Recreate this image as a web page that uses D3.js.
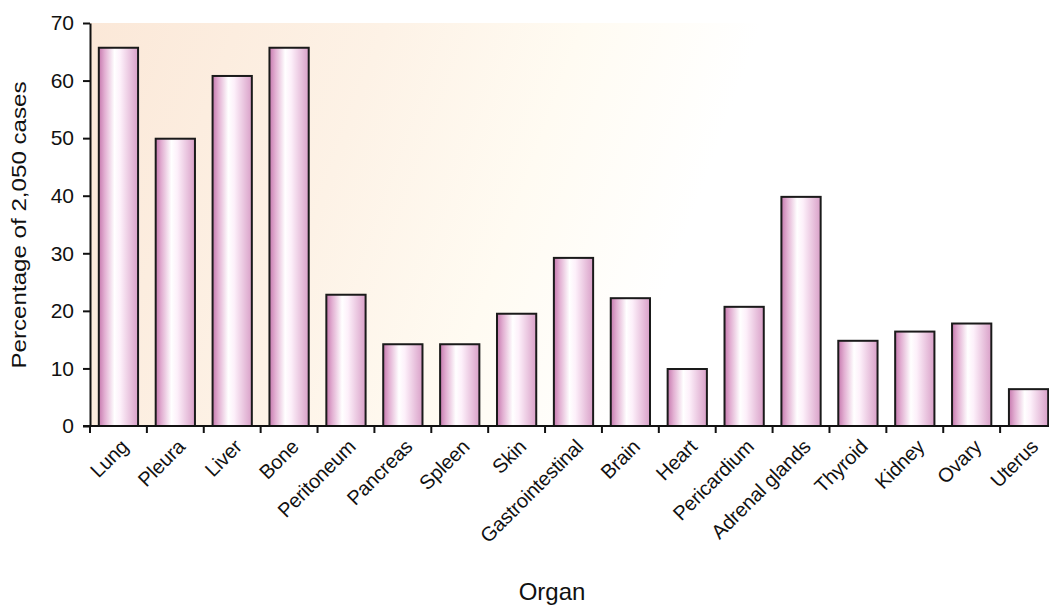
<!DOCTYPE html>
<html><head><meta charset="utf-8">
<script src="https://cdn.jsdelivr.net/npm/d3@7"></script>
<style>body{margin:0;background:#fff}svg{display:block}text{font-family:"Liberation Sans",Arial,sans-serif;fill:#111}</style>
</head><body>
<svg id="c" width="1049" height="605"></svg>
<script>
const organs = ["Lung","Pleura","Liver","Bone","Peritoneum","Pancreas","Spleen","Skin","Gastrointestinal","Brain","Heart","Pericardium","Adrenal glands","Thyroid","Kidney","Ovary","Uterus"];
const percentages = [65.7,49.9,60.8,65.7,22.8,14.2,14.2,19.5,29.2,22.2,9.9,20.7,39.8,14.8,16.4,17.8,6.4];
const yTicks = [0,10,20,30,40,50,60,70];
const yTitle = "Percentage of 2,050 cases";
const xTitle = "Organ";

const svg = d3.select("#c");
const L = 90, R = 1057, T = 23, B = 426;
const x = d3.scaleBand().domain(organs).range([L, R]).padding(0);
const y = d3.scaleLinear().domain([0,70]).range([B, T]);

const defs = svg.append("defs");
const bg = defs.append("linearGradient").attr("id","bg").attr("x1","0").attr("y1","0").attr("x2","1").attr("y2","0.15");
bg.append("stop").attr("offset","0").attr("stop-color","#fbe8d8");
bg.append("stop").attr("offset","0.3").attr("stop-color","#fdf2e6");
bg.append("stop").attr("offset","0.5").attr("stop-color","#fffbf2");
bg.append("stop").attr("offset","0.68").attr("stop-color","#ffffff");
bg.append("stop").attr("offset","1").attr("stop-color","#ffffff");
const bar = defs.append("linearGradient").attr("id","bar").attr("x1","0").attr("y1","0").attr("x2","1").attr("y2","0");
bar.append("stop").attr("offset","0").attr("stop-color","#c679ae");
bar.append("stop").attr("offset","0.15").attr("stop-color","#e2afd2");
bar.append("stop").attr("offset","0.4").attr("stop-color","#ffffff");
bar.append("stop").attr("offset","0.55").attr("stop-color","#fdf0fa");
bar.append("stop").attr("offset","1").attr("stop-color","#d9a0c8");

svg.append("rect").attr("x",L).attr("y",T).attr("width",R-L).attr("height",B-T).attr("fill","url(#bg)");

const bw = x.bandwidth()*0.69;
svg.selectAll("rect.b").data(organs).enter().append("rect").attr("class","b")
  .attr("x", d => x(d) + (x.bandwidth()-bw)/2)
  .attr("y", (d,i) => y(percentages[i]))
  .attr("width", bw)
  .attr("height", (d,i) => y(0) - y(percentages[i]))
  .attr("fill","url(#bar)").attr("stroke","#1a1a1a").attr("stroke-width",2);

// y axis
const ya = svg.append("g").attr("transform",`translate(${L},0)`)
  .call(d3.axisLeft(y).tickValues(yTicks).tickSize(7).tickPadding(9).tickSizeOuter(0));
ya.select(".domain").attr("stroke","#111").attr("stroke-width",2);
ya.selectAll(".tick line").attr("stroke","#111").attr("stroke-width",2);
ya.selectAll(".tick text").style("font-size","21px").attr("fill","#111");

// x axis: ticks between categories
const xa = svg.append("g").attr("transform",`translate(0,${B})`);
xa.append("line").attr("x1",L-7).attr("x2",R).attr("stroke","#111").attr("stroke-width",2);
const bounds = organs.map(d => x(d));
xa.selectAll("line.t").data(bounds).enter().append("line").attr("class","t")
  .attr("x1",d=>d).attr("x2",d=>d).attr("y1",0).attr("y2",7).attr("stroke","#111").attr("stroke-width",2);
xa.selectAll("text").data(organs).enter().append("text")
  .attr("transform", d => `translate(${x(d)+x.bandwidth()/2+6},${17}) rotate(-45)`)
  .attr("text-anchor","end").attr("dy","0.35em")
  .style("font-size","20px").style("letter-spacing","-0.2px")
  .text(d=>d);

svg.append("text").attr("transform",`translate(26,225) rotate(-90) scale(1.15,1)`).attr("text-anchor","middle")
  .style("font-size","21px").text(yTitle);
svg.append("text").attr("x",552).attr("y",600).attr("text-anchor","middle")
  .style("font-size","24px").text(xTitle);
</script>
</body></html>
